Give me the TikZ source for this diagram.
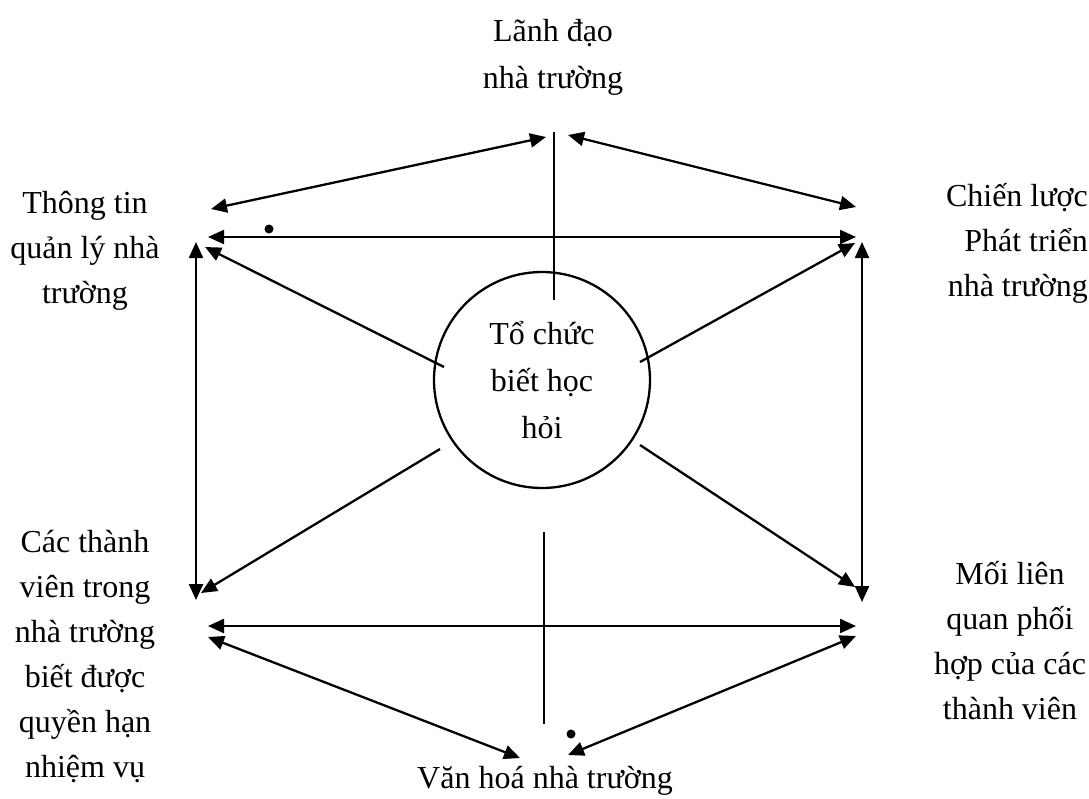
\documentclass[tikz,border=0pt]{standalone}
\usepackage{fontspec}
\setmainfont{Liberation Serif}
\usetikzlibrary{arrows.meta}

\tikzset{
  lbl/.style={inner sep=0pt, align=center, font=\fontsize{32}{45}\selectfont},
  link/.style={line width=2.3pt},
  oneway/.style={link, -{Triangle[length=16pt,width=14pt]}},
  twoway/.style={link, {Triangle[length=16pt,width=14pt]}-{Triangle[length=16pt,width=14pt]}},
  hub/.style={circle, draw, line width=2.3pt, minimum size=216pt, inner sep=0pt, align=center,
              font=\fontsize{32}{47}\selectfont},
  spot/.style={circle, fill, inner sep=0pt, minimum size=9pt}
}

\begin{document}
\begin{tikzpicture}[x=1pt, y=-1pt]
\useasboundingbox (0,0) rectangle (1089,798);

% labels
\node[lbl, font=\fontsize{32}{47}\selectfont] (lead) at (553,57) {Lãnh đạo\\nhà trường};
\node[lbl] (info) at (85,251) {Thông tin\\quản lý nhà\\trường};
\node[lbl, align=right, anchor=east] (strat) at (1088,243) {Chiến lược\\Phát triển\\nhà trường};
\node[lbl] (memb) at (85,657) {Các thành\\viên trong\\nhà trường\\biết được\\quyền hạn\\nhiệm vụ};
\node[lbl] (coop) at (1010,641) {Mối liên\\quan phối\\hợp của các\\thành viên};
\node[lbl] (cult) at (545,781) {Văn hoá nhà trường};

% central circle
\node[hub] (org) at (542,380) {Tổ chức\\biết học\\hỏi};

% arrow end points
\coordinate (tlA) at (211,209);  \coordinate (tlB) at (546,137);
\coordinate (trA) at (568,135);  \coordinate (trB) at (856,207);
\coordinate (thL) at (208,237);  \coordinate (thR) at (856,237);
\coordinate (lvT) at (196,242);  \coordinate (lvB) at (196,600);
\coordinate (rvT) at (862,242);  \coordinate (rvB) at (862,602);
\coordinate (ulS) at (444,367);  \coordinate (ulE) at (205,247);
\coordinate (urS) at (640,362);  \coordinate (urE) at (855,243);
\coordinate (llS) at (440,449);  \coordinate (llE) at (201,593);
\coordinate (lrS) at (640,445);  \coordinate (lrE) at (855,587);
\coordinate (bhL) at (208,626);  \coordinate (bhR) at (856,626);
\coordinate (blA) at (208,637);  \coordinate (blB) at (520,758);
\coordinate (brA) at (856,636);  \coordinate (brB) at (568,755);
\coordinate (tvT) at (554,132);  \coordinate (tvB) at (554,300);
\coordinate (bvT) at (544,532);  \coordinate (bvB) at (544,724);

% connectors
\draw[twoway] (tlA) -- (tlB);
\draw[twoway] (trA) -- (trB);
\draw[twoway] (thL) -- (thR);
\draw[twoway] (lvT) -- (lvB);
\draw[twoway] (rvT) -- (rvB);
\draw[oneway] (ulS) -- (ulE);
\draw[oneway] (urS) -- (urE);
\draw[oneway] (llS) -- (llE);
\draw[oneway] (lrS) -- (lrE);
\draw[twoway] (bhL) -- (bhR);
\draw[twoway] (blA) -- (blB);
\draw[twoway] (brA) -- (brB);
\draw[link] (tvT) -- (tvB);
\draw[link] (bvT) -- (bvB);

% dots
\node[spot] (d1) at (269,229) {};
\node[spot] (d2) at (571,734) {};
\end{tikzpicture}
\end{document}
